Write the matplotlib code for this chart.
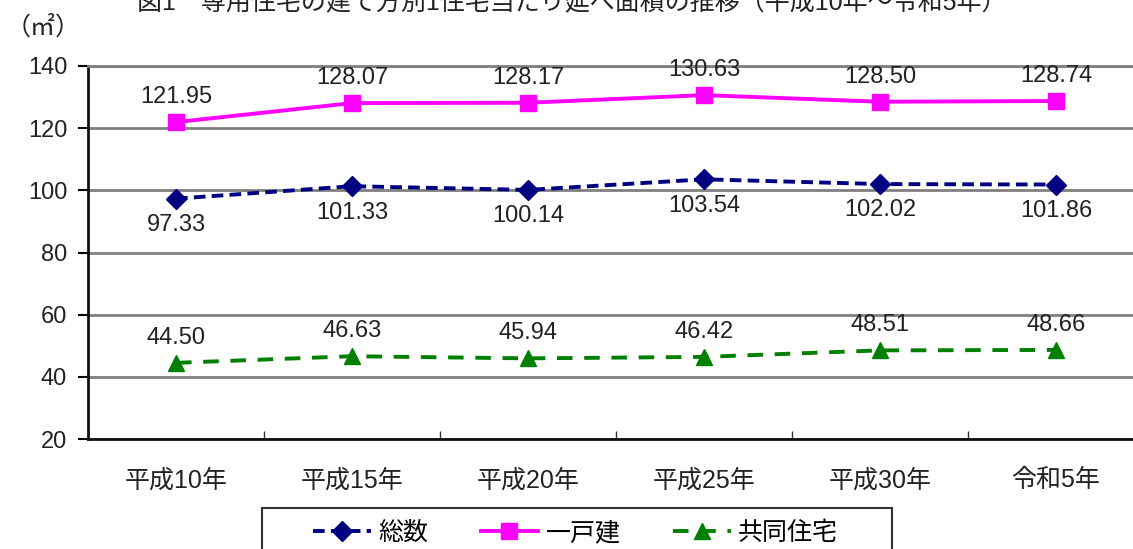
import matplotlib.pyplot as plt
import numpy as np
from matplotlib.patches import Rectangle

plt.rcParams["font.family"] = ["Liberation Sans", "Noto Sans CJK JP", "DejaVu Sans"]

years = ["平成10年", "平成15年", "平成20年", "平成25年", "平成30年", "令和5年"]
total = [97.33, 101.33, 100.14, 103.54, 102.02, 101.86]
detached = [121.95, 128.07, 128.17, 130.63, 128.50, 128.74]
collective = [44.50, 46.63, 45.94, 46.42, 48.51, 48.66]

W, H = 1133, 549
fig = plt.figure(figsize=(W / 100, H / 100), dpi=100)
ax = fig.add_axes([88 / W, 1 - 439 / H, (1144 - 88) / W, (439 - 66) / H])

x = np.arange(len(years))

ax.plot(x, total, color="#000080", lw=2.8, ls=(0, (3, 1.6)), marker="D",
        markersize=10, label="総数", zorder=4)
ax.plot(x, detached, color="#FF00FF", lw=2.8, ls="-", marker="s",
        markersize=12, label="一戸建", zorder=4)
ax.plot(x, collective, color="#008000", lw=2.8, ls=(0, (4, 3)), marker="^",
        markersize=12, label="共同住宅", zorder=4)

# value labels: 一戸建 and 共同住宅 above, 総数 below
for xi, v in zip(x, detached):
    ax.annotate(f"{v:.2f}", (xi, v), xytext=(0, 18), textcoords="offset points",
                ha="center", va="center", fontsize=17, color="#222222",
                annotation_clip=False)
for xi, v in zip(x, total):
    ax.annotate(f"{v:.2f}", (xi, v), xytext=(0, -19), textcoords="offset points",
                ha="center", va="center", fontsize=17, color="#222222",
                annotation_clip=False)
for xi, v in zip(x, collective):
    ax.annotate(f"{v:.2f}", (xi, v), xytext=(0, 18), textcoords="offset points",
                ha="center", va="center", fontsize=17, color="#222222",
                annotation_clip=False)

ax.set_xlim(-0.5, len(years) - 0.5)
ax.set_ylim(20, 140)
ax.set_yticks(np.arange(20, 141, 20))
ax.yaxis.grid(True, color="#808080", lw=2)
ax.set_axisbelow(True)

ax.set_xticks(x)
ax.set_xticklabels(years, fontsize=18, color="#222222")
ax.tick_params(axis="x", length=0, pad=21)
ax.set_xticks(np.arange(0.5, len(years) - 0.5, 1), minor=True)
ax.tick_params(axis="x", which="minor", direction="in", length=6, width=1, color="#333333")
ax.tick_params(axis="y", labelsize=17, labelcolor="#222222", length=7, width=1.5, pad=8)

for side in ["left", "bottom"]:
    ax.spines[side].set_linewidth(2)
    ax.spines[side].set_color("#111111")
ax.spines["top"].set_color("#808080")
ax.spines["top"].set_linewidth(2)
ax.spines["right"].set_visible(False)

fig.text(6 / W, 1 - 27 / H, "（㎡）", fontsize=18, ha="left", va="center",
         color="#222222")
fig.text(572 / W, 1 - 10 / H,
         "図1　専用住宅の建て方別1住宅当たり延べ面積の推移（平成10年～令和5年）",
         fontsize=18, ha="center", va="baseline", color="#222222")

# legend box runs off the bottom edge, as in the source image
fig.add_artist(Rectangle((262 / W, 1 - 560 / H), (892 - 262) / W, (560 - 508) / H,
                         transform=fig.transFigure, fill=False,
                         edgecolor="#333333", lw=1.5))
leg = fig.legend(loc="center left", bbox_to_anchor=(313 / W, 1 - 533 / H),
                 ncol=3, fontsize=18, frameon=False,
                 handlelength=2.3, handletextpad=0.3,
                 columnspacing=2.1, borderpad=0, borderaxespad=0)

fig.savefig("out.png", dpi=100)
